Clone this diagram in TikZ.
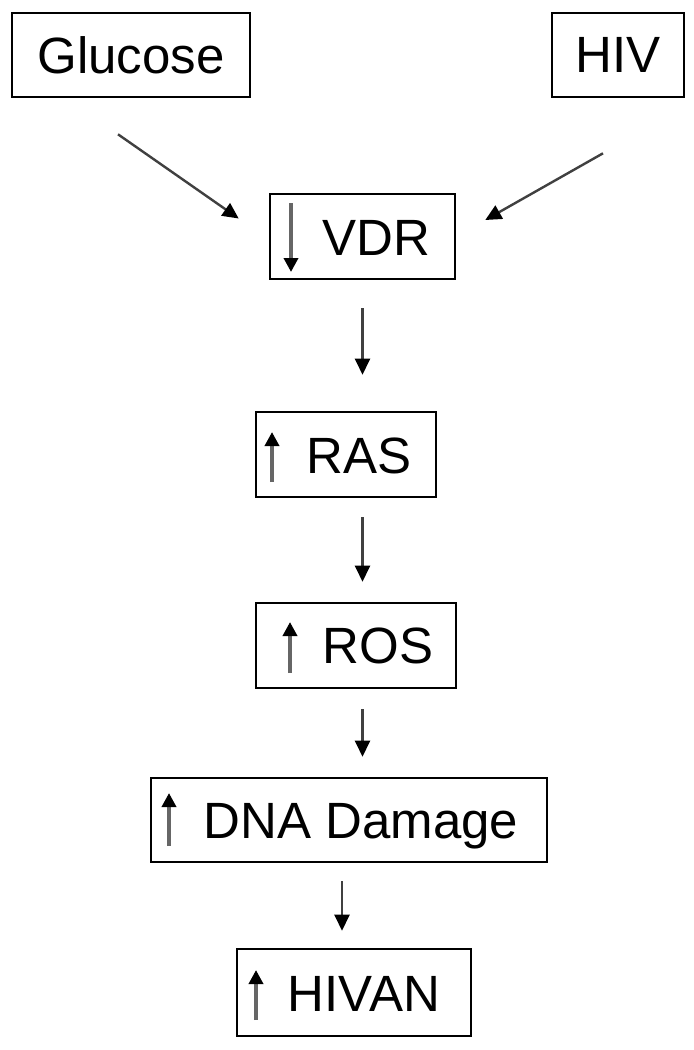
\documentclass[tikz,border=0pt]{standalone}
\usepackage{fontspec}
\setmainfont{Liberation Sans}
\usetikzlibrary{calc,arrows.meta,positioning}

\tikzset{
  box/.style={draw=black, line width=1.3pt, inner sep=0pt, font=\fontsize{25.5}{30}\selectfont},
  word/.style={inner sep=0pt, anchor=base, font=\fontsize{25.5}{30}\selectfont},
  link/.style={draw=black!75, line width=1.2pt, -{Triangle[length=8pt,width=7.5pt,color=black]}},
  trend/.style={draw=black!60, line width=1.8pt, -{Triangle[length=7pt,width=7pt,color=black]}}
}

\begin{document}
\begin{tikzpicture}[x=0.5pt,y=-0.5pt]
\useasboundingbox (0,0) rectangle (694,1050);

% inputs
\node[box, minimum width=119pt, minimum height=42pt] (glucose) at (131,55) {Glucose};
\node[box, minimum width=66pt, minimum height=42pt] (hiv) at (618,55) {HIV};

% main column
\foreach \n/\cx/\cy/\w/\h in {vdr/362.5/236.5/92.5/42.5,ras/346/454.5/90/42.5,ros/356/645.5/100/42.5,dna/349/820/198/42,hivan/354/992.5/117/43.5}
  \node[box, minimum width=\w pt, minimum height=\h pt] (\n) at (\cx,\cy) {};

\foreach \n/\tx/\ty/\txt in {vdr/376/255/VDR,ras/359/473/RAS,ros/378/663/ROS,dna/361/838/DNA Damage,hivan/364/1011/HIVAN}
  \node[word] (\n-t) at (\tx,\ty) {\txt};

% up / down marks
\draw[trend] (291,203) -- (291,272);
\foreach \ax/\ya/\yb in {272/482/432,290/673/622,169/846/793,256/1020/970}
  \draw[trend] (\ax,\ya) -- (\ax,\yb);

% connectors
\draw[link] ($(glucose.south)+(-13,36)$) -- ($(vdr.west)+(-30,-18)$);
\draw[link] ($(hiv.south)+(-15,55)$) -- ($(vdr.east)+(29,-16.5)$);
\draw[link, shorten <=14pt, shorten >=18pt] (vdr.south) -- (vdr.south |- ras.north);
\draw[link, shorten <=9.5pt, shorten >=10pt] (vdr.south |- ras.south) -- (vdr.south |- ros.north);
\draw[link, shorten <=10pt, shorten >=10pt] (vdr.south |- ros.south) -- (vdr.south |- dna.north);
\draw[link, shorten <=9pt, shorten >=8.5pt] ([xshift=-3.5pt]dna.south) -- ([xshift=-3.5pt]dna.south |- hivan.north);

\end{tikzpicture}
\end{document}
